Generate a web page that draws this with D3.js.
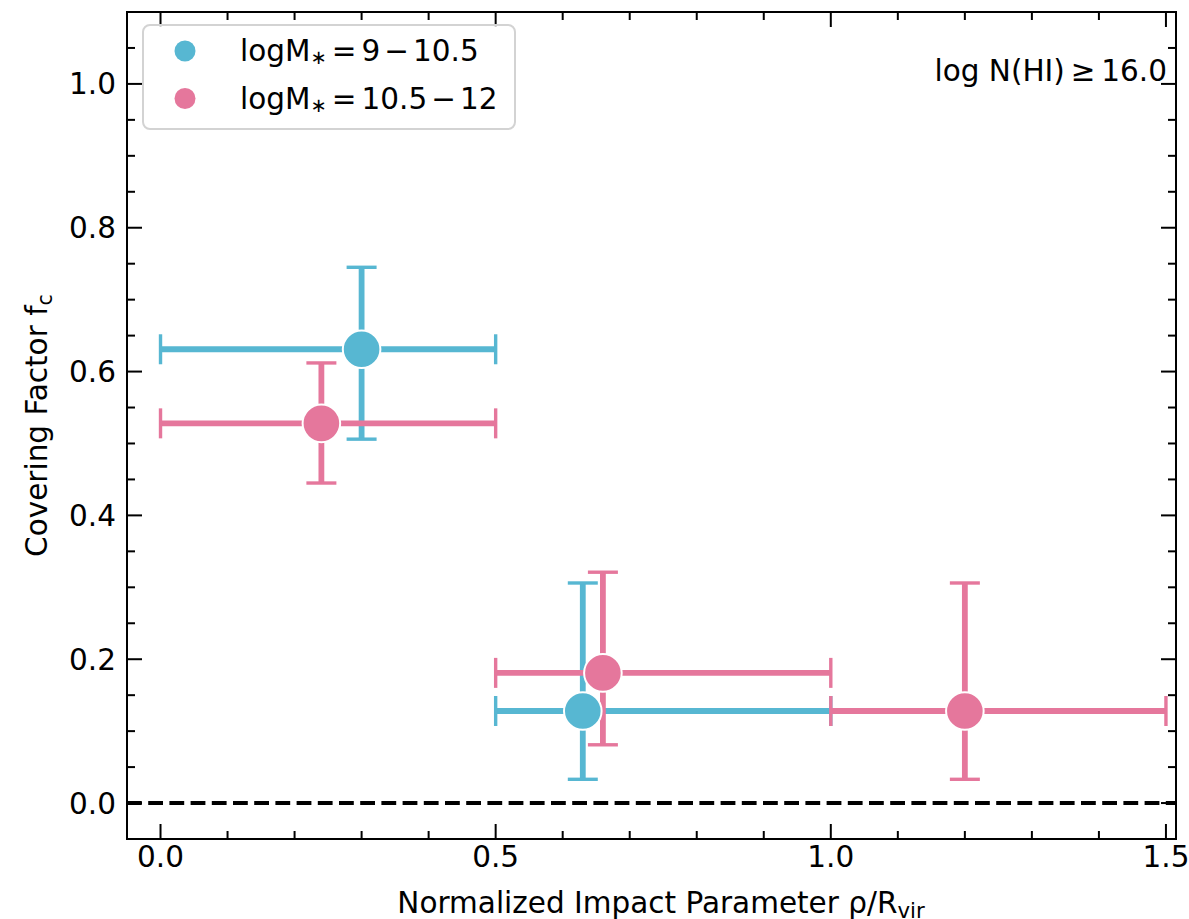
<!DOCTYPE html>
<html>
<head>
<meta charset="utf-8">
<script src="https://cdn.jsdelivr.net/npm/d3@7"></script>
<style>
  body { margin: 0; background: #fff; }
  svg text { font-family: "DejaVu Sans", sans-serif; fill: #000; }
</style>
</head>
<body>
<div id="chart"></div>
<script>
// data
const lowMassX = [0.30, 0.63];
const lowMassY = [0.631, 0.128];
const lowMassBinLo = [0.0, 0.5];
const lowMassBinHi = [0.5, 1.0];
const lowMassYLo = [0.506, 0.033];
const lowMassYHi = [0.745, 0.306];

const highMassX = [0.24, 0.66, 1.20];
const highMassY = [0.528, 0.181, 0.128];
const highMassBinLo = [0.0, 0.5, 1.0];
const highMassBinHi = [0.5, 1.0, 1.5];
const highMassYLo = [0.445, 0.081, 0.033];
const highMassYHi = [0.612, 0.321, 0.306];

const seriesLabels = [["9", "10.5"], ["10.5", "12"]];
const xTicks = [0.0, 0.5, 1.0, 1.5];
const yTicks = [0.0, 0.2, 0.4, 0.6, 0.8, 1.0];

const colors = ["#57b7d2", "#e5779c"];

const width = 1189, height = 919;
const plotL = 127, plotR = 1176, plotT = 12, plotB = 839;
const fs = 29.5;

const svg = d3.select("#chart").append("svg")
    .attr("width", width)
    .attr("height", height);

svg.append("rect").attr("width", width).attr("height", height).attr("fill", "#fff");

const x = d3.scaleLinear().domain([-0.05, 1.515]).range([plotL, plotR]);
const y = d3.scaleLinear().domain([-0.05, 1.1]).range([plotB, plotT]);

// build point tables
function makeSeries(xs, ys, blo, bhi, ylo, yhi) {
    return xs.map((v, i) => ({x: v, y: ys[i], x0: blo[i], x1: bhi[i], y0: ylo[i], y1: yhi[i]}));
}
const series = [
    makeSeries(lowMassX, lowMassY, lowMassBinLo, lowMassBinHi, lowMassYLo, lowMassYHi),
    makeSeries(highMassX, highMassY, highMassBinLo, highMassBinHi, highMassYLo, highMassYHi)
];

// zero line
svg.append("line")
    .attr("x1", plotL).attr("x2", plotR)
    .attr("y1", y(0)).attr("y2", y(0))
    .attr("stroke", "#000")
    .attr("stroke-width", 4)
    .attr("stroke-dasharray", "14.8,6.4");

// error bars
const cap = 15;
series.forEach((pts, si) => {
    const g = svg.append("g").attr("stroke", colors[si]);
    pts.forEach(d => {
        g.append("line").attr("x1", x(d.x0)).attr("x2", x(d.x1)).attr("y1", y(d.y)).attr("y2", y(d.y))
            .attr("stroke-width", 5.8);
        g.append("line").attr("x1", x(d.x)).attr("x2", x(d.x)).attr("y1", y(d.y0)).attr("y2", y(d.y1))
            .attr("stroke-width", 5.8);
        // caps
        [d.x0, d.x1].forEach(v => {
            g.append("line").attr("x1", x(v)).attr("x2", x(v))
                .attr("y1", y(d.y) - cap).attr("y2", y(d.y) + cap)
                .attr("stroke-width", 3.4);
        });
        [d.y0, d.y1].forEach(v => {
            g.append("line").attr("y1", y(v)).attr("y2", y(v))
                .attr("x1", x(d.x) - cap).attr("x2", x(d.x) + cap)
                .attr("stroke-width", 3.4);
        });
    });
});

// markers
series.forEach((pts, si) => {
    svg.append("g").selectAll("circle")
        .data(pts)
        .join("circle")
        .attr("cx", d => x(d.x))
        .attr("cy", d => y(d.y))
        .attr("r", 18.8)
        .attr("fill", colors[si])
        .attr("stroke", "#fff")
        .attr("stroke-width", 2);
});

// frame
svg.append("rect")
    .attr("x", plotL).attr("y", plotT)
    .attr("width", plotR - plotL).attr("height", plotB - plotT)
    .attr("fill", "none").attr("stroke", "#000").attr("stroke-width", 2);

// ticks, pointing inward on all four sides
const xMinor = d3.range(0, 1.5001, 0.1).filter(v => !xTicks.some(t => Math.abs(t - v) < 1e-6));
const yMinor = d3.range(-0.05, 1.1001, 0.05).filter(v => !yTicks.some(t => Math.abs(t - v) < 1e-6));
const major = 15, minor = 8;
const tg = svg.append("g").attr("stroke", "#000").attr("stroke-width", 2);
function xTick(v, len) {
    tg.append("line").attr("x1", x(v)).attr("x2", x(v)).attr("y1", plotB).attr("y2", plotB - len);
    tg.append("line").attr("x1", x(v)).attr("x2", x(v)).attr("y1", plotT).attr("y2", plotT + len);
}
function yTick(v, len) {
    tg.append("line").attr("y1", y(v)).attr("y2", y(v)).attr("x1", plotL).attr("x2", plotL + len);
    tg.append("line").attr("y1", y(v)).attr("y2", y(v)).attr("x1", plotR).attr("x2", plotR - len);
}
xTicks.forEach(v => xTick(v, major));
xMinor.forEach(v => xTick(v, minor));
yTicks.forEach(v => yTick(v, major));
yMinor.forEach(v => yTick(v, minor));

// tick labels
svg.append("g").selectAll("text")
    .data(xTicks)
    .join("text")
    .attr("x", d => x(d))
    .attr("y", plotB + 28)
    .attr("text-anchor", "middle")
    .style("font-size", fs + "px")
    .text(d => d.toFixed(1));

svg.append("g").selectAll("text")
    .data(yTicks)
    .join("text")
    .attr("x", plotL - 11)
    .attr("y", d => y(d) + 10.5)
    .attr("text-anchor", "end")
    .style("font-size", fs + "px")
    .text(d => d.toFixed(1));

// axis labels
const xl = svg.append("text")
    .attr("x", 661)
    .attr("y", 913)
    .attr("text-anchor", "middle")
    .style("font-size", fs + "px");
xl.append("tspan").text("Normalized Impact Parameter \u03c1/R");
xl.append("tspan").attr("dy", 5).style("font-size", (fs * 0.72) + "px").text("vir");

const yl = svg.append("text")
    .attr("transform", `translate(47,${(plotT + plotB) / 2}) rotate(-90)`)
    .attr("text-anchor", "middle")
    .style("font-size", fs + "px");
yl.append("tspan").text("Covering Factor f");
yl.append("tspan").attr("dy", 5).style("font-size", (fs * 0.7) + "px").text("c");

// annotation
svg.append("text")
    .attr("x", 1167)
    .attr("y", 81)
    .attr("text-anchor", "end")
    .style("font-size", fs + "px")
    .text("log N(HI)\u2009\u2265\u200916.0");

// legend
const lg = svg.append("g");
lg.append("rect")
    .attr("x", 143).attr("y", 25)
    .attr("width", 372).attr("height", 104)
    .attr("rx", 7)
    .attr("fill", "#fff").attr("fill-opacity", 0.8)
    .attr("stroke", "#d3d3d3").attr("stroke-width", 2);

seriesLabels.forEach((lab, i) => {
    const cy = 51 + i * 47.5;
    lg.append("circle").attr("cx", 185).attr("cy", cy).attr("r", 10.5).attr("fill", colors[i]);
    const t = lg.append("text")
        .attr("x", 240).attr("y", cy + 10)
        .style("font-size", fs + "px");
    t.append("tspan").text("logM");
    t.append("tspan").attr("dy", 3).style("font-size", (fs * 0.66) + "px").text("\u2217");
    t.append("tspan").attr("dy", -3).attr("dx", 5).text("=");
    t.append("tspan").attr("dx", 5).text(lab[0]);
    t.append("tspan").attr("dx", 4).text("\u2212");
    t.append("tspan").attr("dx", 4).text(lab[1]);
});
</script>
</body>
</html>
